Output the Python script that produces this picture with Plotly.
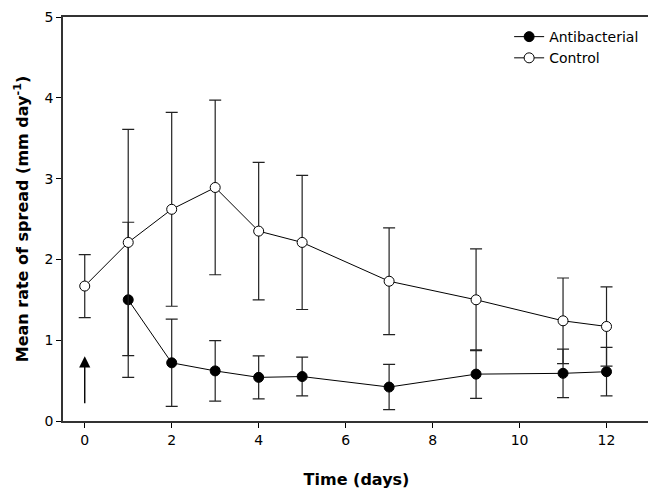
import plotly.graph_objects as go

days = [0, 1, 2, 3, 4, 5, 7, 9, 11, 12]
control_mean = [1.67, 2.21, 2.62, 2.89, 2.35, 2.21, 1.73, 1.50, 1.24, 1.17]
control_err = [0.39, 1.40, 1.20, 1.08, 0.85, 0.83, 0.66, 0.63, 0.53, 0.49]

anti_days = [1, 2, 3, 4, 5, 7, 9, 11, 12]
anti_mean = [1.50, 0.72, 0.62, 0.54, 0.55, 0.42, 0.58, 0.59, 0.61]
anti_err = [0.96, 0.54, 0.375, 0.265, 0.24, 0.28, 0.30, 0.30, 0.30]

x_ticks = [0, 2, 4, 6, 8, 10, 12]
y_ticks = [0, 1, 2, 3, 4, 5]

arrow_x = 0
arrow_tip = 0.80
arrow_base = 0.20

font_family = "DejaVu Sans, Verdana, sans-serif"

fig = go.Figure()
fig.add_trace(go.Scatter(
    x=anti_days, y=anti_mean, name="Antibacterial", mode="lines+markers",
    line=dict(color="black", width=1),
    marker=dict(symbol="circle", size=10, color="black", line=dict(color="black", width=1)),
    error_y=dict(type="data", array=anti_err, visible=True, color="#222222", thickness=1.2, width=6),
))
fig.add_trace(go.Scatter(
    x=days, y=control_mean, name="Control", mode="lines+markers",
    line=dict(color="black", width=1),
    marker=dict(symbol="circle", size=10, color="white", line=dict(color="black", width=1)),
    error_y=dict(type="data", array=control_err, visible=True, color="#222222", thickness=1.2, width=6),
))

fig.add_annotation(
    x=arrow_x, y=arrow_tip, ax=arrow_x, ay=arrow_base, xref="x", yref="y", axref="x", ayref="y",
    showarrow=True, arrowhead=2, arrowsize=1.6, arrowwidth=1.4, arrowcolor="black", text="",
)

fig.update_layout(
    width=648, height=486,
    margin=dict(l=55, r=6, t=9, b=73),
    plot_bgcolor="white", paper_bgcolor="white",
    font=dict(family=font_family, size=14, color="black"),
    showlegend=True,
    legend=dict(x=0.99, y=0.99, xanchor="right", yanchor="top", bgcolor="rgba(0,0,0,0)",
                font=dict(size=14), tracegroupgap=0, itemwidth=30),
)
fig.update_xaxes(
    range=[-0.5, 13], tickvals=x_ticks, ticks="outside", ticklen=5, tickcolor="black",
    showline=True, linecolor="#333333", linewidth=1.5, mirror=True, showgrid=False, zeroline=False,
    automargin=False,
    title=dict(text="<b>Time (days)</b>", font=dict(size=16), standoff=27),
)
fig.update_yaxes(
    range=[0, 5], tickvals=y_ticks, ticks="outside", ticklen=5, tickcolor="black",
    showline=True, linecolor="#333333", linewidth=1.5, mirror=True, showgrid=False, zeroline=False,
    automargin=False, ticklabeloverflow="allow",
    title=dict(text="<b>Mean rate of spread (mm day<sup>-1</sup>)</b>", font=dict(size=16), standoff=12),
)

fig.write_html("out.html")
